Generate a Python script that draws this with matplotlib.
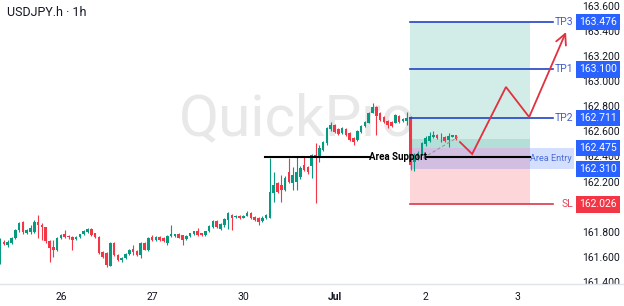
import matplotlib.pyplot as plt
from matplotlib.patches import Rectangle

plt.rcParams['font.family'] = ['Roboto', 'DejaVu Sans']

# hourly USDJPY candles (bar index 0..120)
opens = [161.560, 161.730, 161.703, 161.720, 161.759, 161.822, 161.886, 161.798, 161.806, 161.806,
         161.886, 161.862, 161.846, 161.735, 161.690, 161.663, 161.759, 161.790, 161.775, 161.767,
         161.750, 161.767, 161.790, 161.806, 161.830, 161.798, 161.767, 161.647, 161.639, 161.540,
         161.719, 161.624, 161.584, 161.600, 161.632, 161.671, 161.655, 161.624, 161.719, 161.663,
         161.767, 161.743, 161.767, 161.759, 161.720, 161.775, 161.775, 161.790, 161.783, 161.750,
         161.775, 161.790, 161.814, 161.798, 161.783, 161.814, 161.846, 161.894, 161.830, 161.862,
         161.902, 161.942, 161.926, 161.934, 161.920, 161.934, 161.958, 161.926, 161.918, 161.894,
         161.918, 161.920, 162.117, 162.196, 162.180, 162.141, 162.284, 162.196, 162.204, 162.244,
         162.339, 162.323, 162.331, 162.419, 162.395, 162.460, 162.514, 162.626, 162.658, 162.626,
         162.594, 162.626, 162.594, 162.554, 162.538, 162.602, 162.650, 162.674, 162.753, 162.801,
         162.753, 162.721, 162.689, 162.681, 162.674, 162.729, 162.689, 162.690, 162.721, 162.363,
         162.395, 162.427, 162.506, 162.530, 162.565, 162.578, 162.560, 162.562, 162.538, 162.566,
         162.575]
highs = [161.760, 161.745, 161.740, 161.770, 161.830, 161.890, 161.892, 161.830, 161.860, 161.900,
         161.940, 161.880, 161.850, 161.743, 161.743, 161.770, 161.790, 161.822, 161.780, 161.775,
         161.778, 161.792, 161.820, 161.838, 161.840, 161.800, 161.772, 161.652, 161.645, 161.730,
         161.725, 161.628, 161.610, 161.640, 161.675, 161.700, 161.660, 161.730, 161.728, 161.765,
         161.780, 161.772, 161.772, 161.765, 161.780, 161.862, 161.792, 161.795, 161.786, 161.780,
         161.800, 161.815, 161.838, 161.800, 161.818, 161.860, 161.905, 161.900, 161.880, 161.920,
         161.968, 161.950, 161.940, 161.940, 161.945, 161.970, 161.962, 161.930, 161.922, 161.930,
         161.950, 162.395, 162.284, 162.204, 162.260, 162.250, 162.395, 162.323, 162.403, 162.330,
         162.403, 162.330, 162.427, 162.514, 162.499, 162.530, 162.640, 162.681, 162.665, 162.635,
         162.645, 162.635, 162.600, 162.560, 162.618, 162.660, 162.690, 162.760, 162.833, 162.810,
         162.760, 162.730, 162.695, 162.690, 162.745, 162.740, 162.710, 162.761, 162.730, 162.435,
         162.450, 162.520, 162.570, 162.602, 162.610, 162.585, 162.594, 162.570, 162.594, 162.580,
         162.580]
lows = [161.550, 161.700, 161.690, 161.710, 161.750, 161.810, 161.790, 161.790, 161.790, 161.800,
        161.759, 161.743, 161.720, 161.570, 161.608, 161.655, 161.750, 161.760, 161.750, 161.663,
        161.745, 161.760, 161.780, 161.800, 161.775, 161.755, 161.630, 161.600, 161.530, 161.535,
        161.618, 161.578, 161.570, 161.592, 161.625, 161.620, 161.618, 161.600, 161.660, 161.658,
        161.738, 161.738, 161.733, 161.728, 161.700, 161.765, 161.770, 161.755, 161.700, 161.745,
        161.765, 161.780, 161.778, 161.775, 161.775, 161.806, 161.840, 161.840, 161.820, 161.850,
        161.830, 161.820, 161.920, 161.912, 161.915, 161.930, 161.910, 161.895, 161.862, 161.888,
        161.912, 161.915, 162.045, 162.120, 162.045, 162.130, 162.196, 162.141, 162.141, 162.230,
        162.290, 162.270, 162.236, 162.037, 162.363, 162.450, 162.500, 162.610, 162.595, 162.580,
        162.590, 162.570, 162.530, 162.500, 162.530, 162.595, 162.645, 162.670, 162.750, 162.578,
        162.690, 162.675, 162.634, 162.645, 162.670, 162.675, 162.685, 162.660, 162.300, 162.290,
        162.380, 162.420, 162.490, 162.520, 162.555, 162.546, 162.522, 162.520, 162.483, 162.560,
        162.540]
closes = [161.743, 161.712, 161.725, 161.759, 161.822, 161.878, 161.806, 161.822, 161.838, 161.886,
          161.862, 161.846, 161.735, 161.679, 161.663, 161.759, 161.783, 161.767, 161.767, 161.745,
          161.767, 161.790, 161.815, 161.830, 161.783, 161.767, 161.639, 161.608, 161.544, 161.719,
          161.624, 161.584, 161.600, 161.632, 161.663, 161.647, 161.624, 161.719, 161.663, 161.759,
          161.743, 161.767, 161.740, 161.735, 161.775, 161.790, 161.790, 161.759, 161.743, 161.775,
          161.798, 161.814, 161.783, 161.783, 161.814, 161.854, 161.894, 161.846, 161.870, 161.910,
          161.958, 161.918, 161.934, 161.918, 161.934, 161.958, 161.918, 161.902, 161.886, 161.920,
          161.942, 162.125, 162.180, 162.125, 162.141, 162.236, 162.204, 162.260, 162.284, 162.316,
          162.300, 162.284, 162.419, 162.395, 162.475, 162.522, 162.634, 162.658, 162.602, 162.586,
          162.634, 162.578, 162.538, 162.522, 162.610, 162.650, 162.681, 162.753, 162.801, 162.729,
          162.697, 162.681, 162.658, 162.650, 162.737, 162.681, 162.705, 162.713, 162.339, 162.403,
          162.435, 162.514, 162.554, 162.570, 162.578, 162.554, 162.562, 162.530, 162.570, 162.575,
          162.546]

day_ticks = [16, 40, 64, 88, 112, 136]
day_labels = ['26', '27', '30', 'Jul', '2', '3']
price_ticks = [163.6, 163.4, 163.2, 163.0, 162.8, 162.6, 162.4, 162.2, 161.8, 161.6, 161.4]

tp3, tp1, tp2 = 163.476, 163.100, 162.711
stop_loss = 162.026
entry_top, entry_bottom = 162.475, 162.310
entry_price = 162.475
last_price = 162.546
support = 162.40

# planned path of price
path_idx = [121.0, 124.2, 133.1, 139.2, 148.9]
path_price = [162.522, 162.427, 162.960, 162.721, 163.397]
trend_idx = [111.3, 120.5]
trend_price = [162.395, 162.562]

UP, DOWN = '#089981', '#f23645'
BLUE = '#2962ff'
LINE_BLUE = '#2343c4'
TEXT = '#131722'

fig = plt.figure(figsize=(6.24, 3.06), dpi=100)
fig.patch.set_facecolor('white')
ax = fig.add_axes([0, 22 / 306, 1, 284 / 306])
ax.set_xlim(-0.05, 164.16)
ax.set_ylim(161.393, 163.652)

# watermark
ax.text(78.1, 162.578, 'QuickPro', fontsize=42, color='#e8e8e8', ha='center', va='baseline', zorder=0)

# position tool zones
x0, x1 = 107.85, 139.4
ax.add_patch(Rectangle((x0, entry_price), x1 - x0, tp3 - entry_price, fc=UP, alpha=0.18, ec='none', zorder=1))
ax.add_patch(Rectangle((x0, entry_price), x1 - x0, last_price - entry_price, fc=UP, alpha=0.15, ec='none', zorder=1))
ax.add_patch(Rectangle((x0, stop_loss), x1 - x0, entry_price - stop_loss, fc=DOWN, alpha=0.2, ec='none', zorder=1))
ax.add_patch(Rectangle((x0, entry_bottom), 151.0 - x0, entry_top - entry_bottom, fc=BLUE, alpha=0.2, ec='none', zorder=1))

# candles
for i, (o, h, l, c) in enumerate(zip(opens, highs, lows, closes)):
    col = UP if c >= o else DOWN
    ax.vlines(i, l, h, color=col, lw=0.8, zorder=3)
    ax.bar(i, max(abs(c - o), 0.004), bottom=min(o, c), width=0.68, color=col, lw=0, zorder=3)

# area support line
ax.plot([69.7, 97.3], [support, support], color='black', lw=1.5, zorder=4)
ax.plot([112.3, x1], [support, support], color='black', lw=1.5, zorder=4)
ax.text(104.8, support, 'Area Support', fontsize=7, fontweight='bold', color='black',
        ha='center', va='center', zorder=5)
ax.plot(trend_idx, trend_price, color='#9598a1', lw=0.8, ls=(0, (3, 2)), zorder=4)

# targets and stop
for lvl, name in [(tp3, 'TP3'), (tp1, 'TP1'), (tp2, 'TP2')]:
    ax.plot([x0, 145.5], [lvl, lvl], color=LINE_BLUE, lw=1.2, zorder=4)
    ax.text(148.4, lvl, name, fontsize=7.5, color='#3f5fcf', ha='center', va='center', zorder=5)
ax.plot([x0, 145.5], [stop_loss, stop_loss], color='#d9394a', lw=1.2, zorder=4)
ax.text(149.2, stop_loss, 'SL', fontsize=7.5, color='#e0475a', ha='center', va='center', zorder=5)
ax.text(144.8, 162.392, 'Area Entry', fontsize=6.6, color='#4a6fd6', ha='center', va='center', zorder=5)

# projected move
ax.plot(path_idx[:-1], path_price[:-1], color='#e0313f', lw=1.3, zorder=6, solid_joinstyle='miter')
ax.annotate('', xy=(path_idx[-1], path_price[-1]), xytext=(path_idx[-2], path_price[-2]),
            arrowprops=dict(arrowstyle='->,head_length=0.75,head_width=0.38', color='#e0313f', lw=1.3,
                            shrinkA=0, shrinkB=0), zorder=6)

# price scale
ytr = ax.get_yaxis_transform()
for p in price_ticks:
    ax.text(0.9936, p, f'{p:.3f}', transform=ytr, fontsize=7.5, color=TEXT, ha='right', va='center',
            zorder=2, clip_on=True)
for p, fc in [(tp3, BLUE), (tp1, BLUE), (tp2, BLUE), (entry_top, BLUE), (entry_bottom, BLUE), (stop_loss, DOWN)]:
    ax.text(0.958, p, f'{p:.3f}', transform=ytr, fontsize=7.5, color='white', ha='center', va='center',
            zorder=7, bbox=dict(boxstyle='square,pad=0.3', fc=fc, ec='none'))

# axes styling
ax.set_yticks([])
ax.set_xticks(day_ticks, day_labels)
ax.tick_params(axis='x', length=0, pad=6, labelsize=7.5, labelcolor=TEXT)
for lab in ax.get_xticklabels():
    if lab.get_text() == 'Jul':
        lab.set_fontweight('bold')
for side in ['top', 'left', 'right']:
    ax.spines[side].set_visible(False)
ax.spines['bottom'].set_color('#e0e3eb')
ax.spines['bottom'].set_linewidth(1.0)

fig.text(7 / 624, 1 - 12 / 306, 'USDJPY.h · 1h', fontsize=9, color=TEXT, ha='left', va='center')

fig.savefig('out.png', dpi=100)
